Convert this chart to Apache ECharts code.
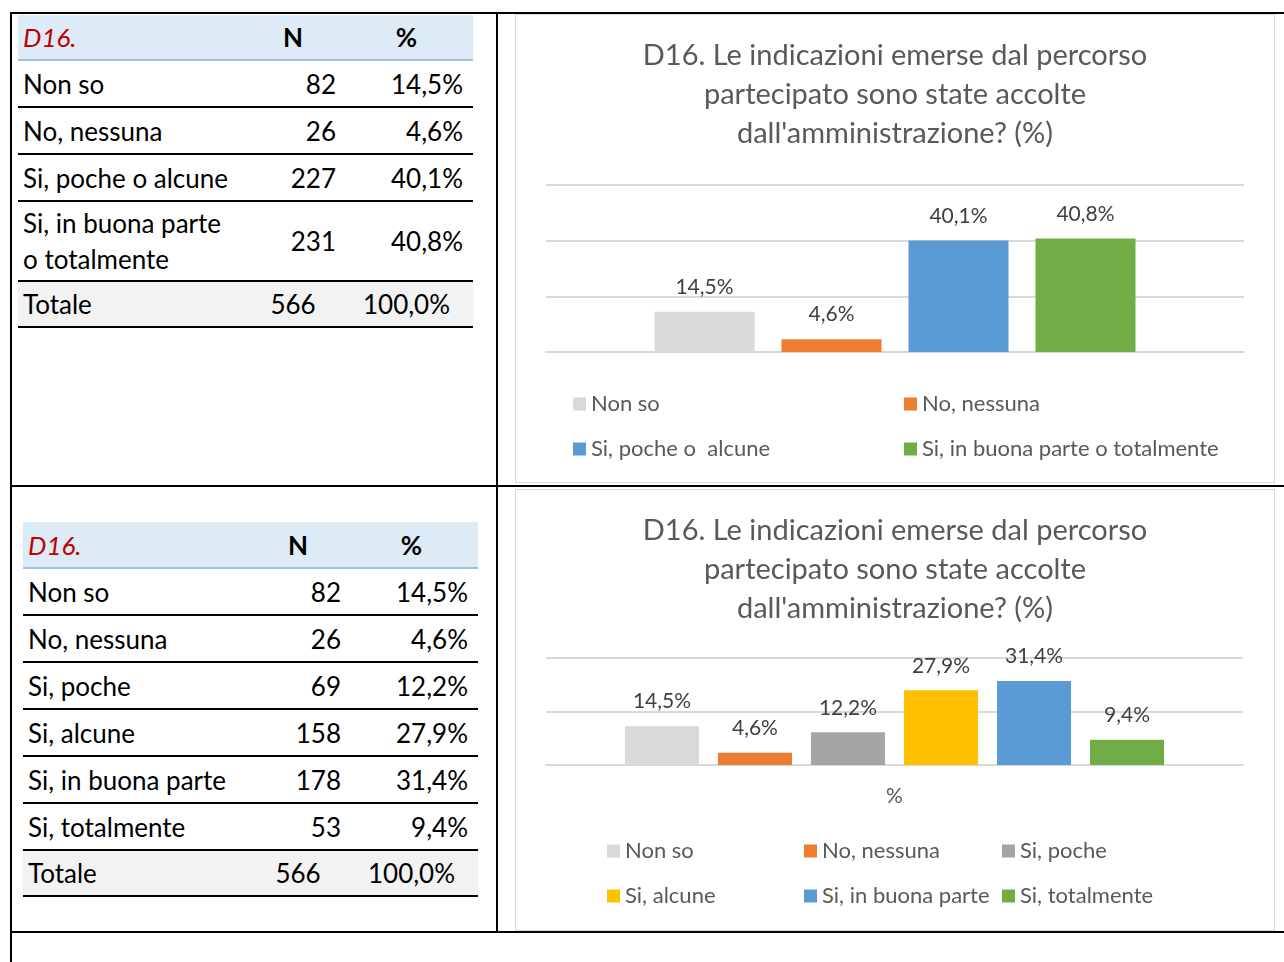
<!DOCTYPE html>
<html>
<head>
<meta charset="utf-8">
<script src="https://cdn.jsdelivr.net/npm/echarts@6/dist/echarts.min.js"></script>
<style>
  body { margin: 0; background: #fff; font-family: Lato, "Noto Sans", sans-serif; }
  #page { position: relative; width: 1284px; height: 962px; overflow: hidden; }
  .line { position: absolute; background: #000; }
  .box { position: absolute; border: 1px solid #d9d9d9; box-sizing: border-box; }
  table { position: absolute; border-collapse: collapse; table-layout: fixed; font-size: 26px; color: #000; }
  td { padding: 0; border-bottom: 2px solid #000; }
  tr.head td { background: #ddebf7; border-bottom: 2px solid #9bc2e6; font-weight: bold; text-align: center; padding-right: 6px; }
  tr.head td.q { color: #c00000; font-style: italic; font-weight: normal; text-align: left; padding-left: 5px; }
  td.lab { padding-left: 5px; white-space: pre; line-height: 36px; }
  td.num { text-align: right; padding-right: 10px; }
  tr.tot td { background: #f2f2f2; }
  tr.tot td.num { text-align: center; padding-right: 6px; }
</style>
</head>
<body>
<div id="page">
  <div class="line" style="left:10px;top:12px;width:1274px;height:2px"></div>
  <div class="line" style="left:10px;top:12px;width:2px;height:950px"></div>
  <div class="line" style="left:496px;top:12px;width:2px;height:921px"></div>
  <div class="line" style="left:10px;top:485px;width:1274px;height:2px"></div>
  <div class="line" style="left:10px;top:931px;width:1274px;height:2px"></div>

  <table id="tab1" style="left:18px;top:15px;width:455px"></table>
  <table id="tab2" style="left:23px;top:522px;width:455px"></table>

  <div class="box" id="c1" style="left:515px;top:14px;width:760px;height:469px"></div>
  <div class="box" id="c2" style="left:515px;top:489px;width:760px;height:442px"></div>
</div>
<script>
// tabella 1
const tab1Labels = ['Non so', 'No, nessuna', 'Si, poche o alcune', 'Si, in buona parte\no totalmente'];
const tab1N = [82, 26, 227, 231];
const tab1Pct = [14.5, 4.6, 40.1, 40.8];
const tab1RowH = [47, 47, 47, 80];

// tabella 2
const tab2Labels = ['Non so', 'No, nessuna', 'Si, poche', 'Si, alcune', 'Si, in buona parte', 'Si, totalmente'];
const tab2N = [82, 26, 69, 158, 178, 53];
const tab2Pct = [14.5, 4.6, 12.2, 27.9, 31.4, 9.4];

const totalN = 566;
const totalPct = 100.0;

// grafico 1
const chart1Names = ['Non so', 'No, nessuna', 'Si, poche o  alcune', 'Si, in buona parte o totalmente'];
const chart1Values = [14.5, 4.6, 40.1, 40.8];
const chart1Colors = ['#d9d9d9', '#ed7d31', '#5b9bd5', '#70ad47'];

// grafico 2
const chart2Names = ['Non so', 'No, nessuna', 'Si, poche', 'Si, alcune', 'Si, in buona parte', 'Si, totalmente'];
const chart2Values = [14.5, 4.6, 12.2, 27.9, 31.4, 9.4];
const chart2Colors = ['#d9d9d9', '#ed7d31', '#a5a5a5', '#ffc000', '#5b9bd5', '#70ad47'];

const titleText = 'D16. Le indicazioni emerse dal percorso\npartecipato sono state accolte\ndall\'amministrazione? (%)';

function pct(v) {
    return v.toFixed(1).replace('.', ',') + '%';
}

// costruzione tabelle
function buildTable(id, labels, ns, pcts, rowH, headH) {
    let html = '<colgroup><col style="width:228px"><col style="width:100px"><col style="width:127px"></colgroup>';
    html += `<tr class="head" style="height:${headH}px"><td class="q">D16.</td><td>N</td><td>%</td></tr>`;
    labels.forEach((lab, i) => {
        html += `<tr style="height:${rowH[i] || 47}px"><td class="lab">${lab}</td><td class="num">${ns[i]}</td><td class="num">${pct(pcts[i])}</td></tr>`;
    });
    html += `<tr class="tot" style="height:46px"><td class="lab">Totale</td><td class="num">${totalN}</td><td class="num">${pct(totalPct)}</td></tr>`;
    document.getElementById(id).innerHTML = html;
}
buildTable('tab1', tab1Labels, tab1N, tab1Pct, tab1RowH, 45);
buildTable('tab2', tab2Labels, tab2N, tab2Pct, [], 46);

// grafici
const font = 'Lato';
const grey = '#595959';

function makeChart(dom, names, values, colors, opts) {
    let chart = echarts.init(dom);
    let legends = names.map((name, i) => ({
        data: [name],
        left: opts.legendPos[i][0],
        top: opts.legendPos[i][1],
        padding: 0,
        icon: 'rect',
        itemWidth: 13,
        itemHeight: 13,
        selectedMode: false,
        textStyle: { color: grey, fontSize: 22, fontFamily: font }
    }));
    let series = names.map((name, i) => ({
        name: name,
        type: 'bar',
        data: [values[i]],
        barWidth: opts.barWidth,
        barGap: opts.barGap,
        itemStyle: { color: colors[i] },
        label: {
            show: true,
            position: 'top',
            distance: 14,
            color: '#404040',
            fontSize: 21,
            fontFamily: font,
            formatter: p => pct(p.value)
        }
    }));
    let option = {
        animation: false,
        title: {
            text: titleText,
            left: 'center',
            top: 16,
            textStyle: { color: grey, fontSize: 29, fontWeight: 'normal', fontFamily: font, lineHeight: 39 }
        },
        legend: legends,
        grid: opts.grid,
        xAxis: {
            type: 'category',
            data: [opts.category],
            axisLine: { lineStyle: { color: '#d9d9d9', width: 2 } },
            axisTick: { show: false },
            axisLabel: { color: grey, fontSize: 21, fontFamily: font, margin: 21 }
        },
        yAxis: {
            type: 'value',
            min: 0,
            max: opts.max,
            interval: 20,
            axisLabel: { show: false },
            axisLine: { show: false },
            axisTick: { show: false },
            splitLine: { lineStyle: { color: '#d9d9d9', width: 2 } }
        },
        series: series
    };
    chart.setOption(option);
}

makeChart(document.getElementById('c1'), chart1Names, chart1Values, chart1Colors, {
    grid: { left: 30, right: 30, top: 170, bottom: 130 },
    max: 60,
    barWidth: 100,
    barGap: '27%',
    category: '',
    legendPos: [[57, 378], [388, 378], [57, 423], [388, 423]]
});

makeChart(document.getElementById('c2'), chart2Names, chart2Values, chart2Colors, {
    grid: { left: 30, right: 31, top: 168, bottom: 165 },
    max: 40,
    barWidth: 74,
    barGap: '25.7%',
    category: '%',
    legendPos: [[91, 350], [288, 350], [486, 350], [91, 395], [288, 395], [486, 395]]
});
</script>
</body>
</html>
